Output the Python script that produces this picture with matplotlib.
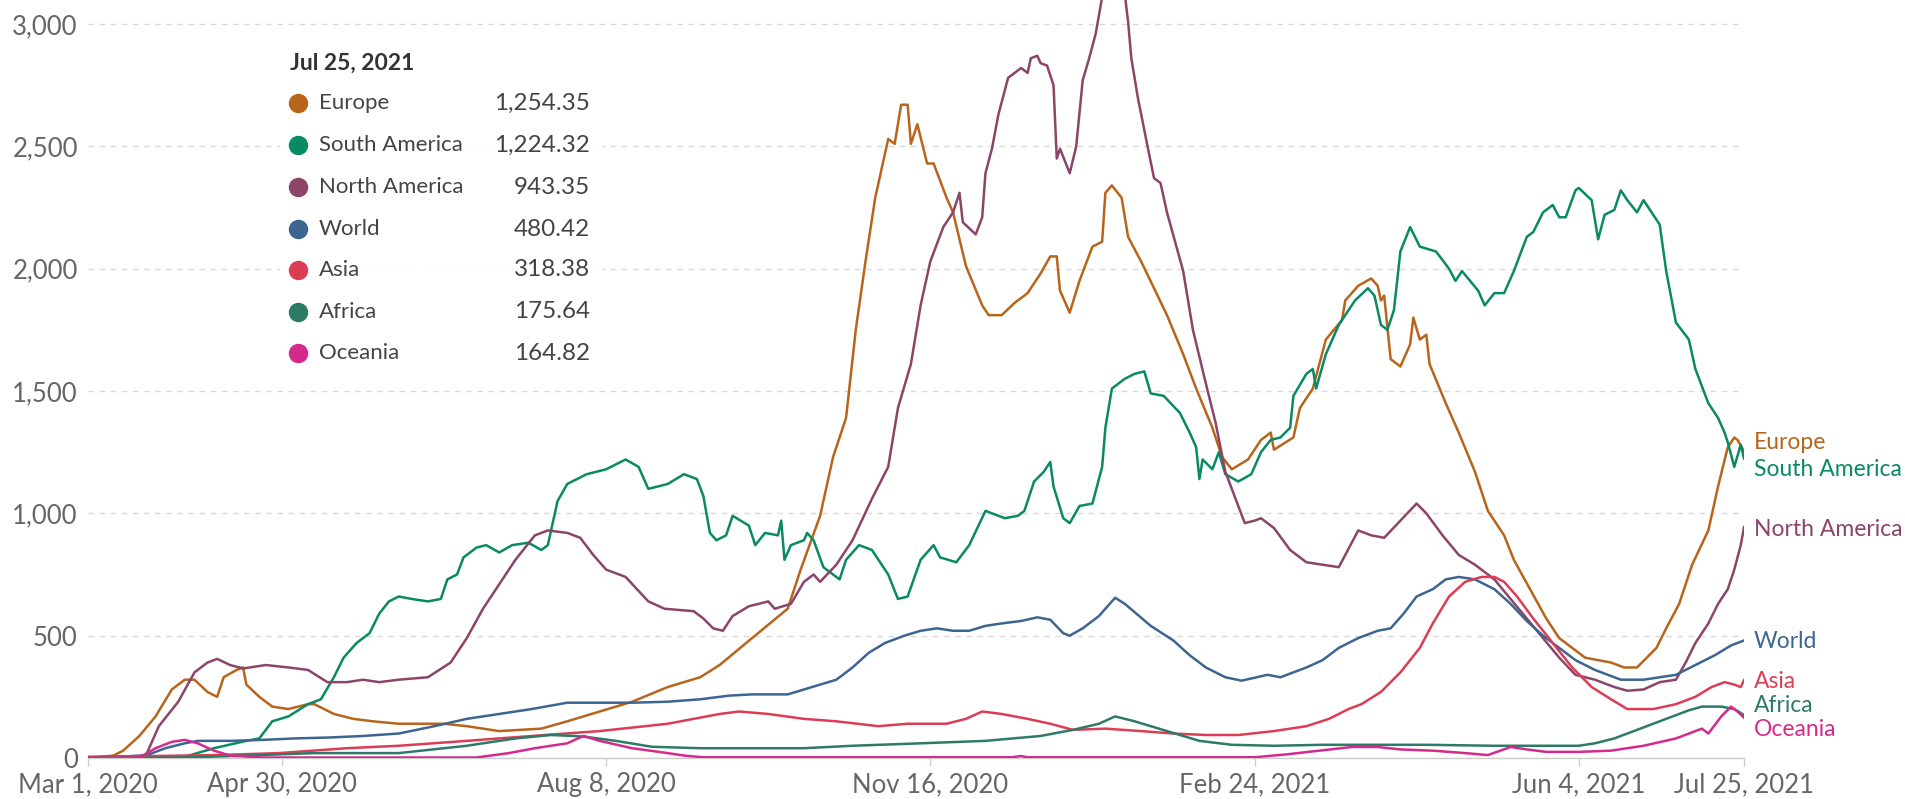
import numpy as np
import matplotlib
matplotlib.use("Agg")
import matplotlib.pyplot as plt
from matplotlib.patches import Rectangle

plt.rcParams['font.family'] = ['Lato', 'DejaVu Sans']

# days since Mar 1, 2020 and values
europe_days = [0, 8, 11, 16, 21, 26, 30, 33, 37, 40, 42, 46, 48, 49, 53, 57, 62, 68, 70, 76,
               82, 88, 96, 110, 117, 127, 140, 148, 158, 168, 179, 189, 195, 205, 216, 220, 226, 230, 234, 237,
               240, 243, 247, 249, 251, 253, 254, 256, 259, 261, 265, 267, 271, 276, 278, 282, 286, 290, 294, 297,
               299, 300, 303, 306, 310, 313, 314, 316, 319, 321, 325, 333, 338, 342, 347, 350, 353, 358, 362, 365,
               366, 372, 374, 378, 382, 387, 388, 392, 396, 398, 399, 400, 402, 405, 408, 409, 411, 413, 414, 419,
               423, 428, 432, 437, 440, 445, 450, 454, 462, 470, 474, 478, 484, 487, 491, 495, 500, 503, 506, 508,
               509, 511]
europe = [0, 10, 30, 90, 170, 280, 320, 320, 270, 250, 330, 360, 370, 300, 250, 210, 200, 220, 220, 180,
          160, 150, 140, 140, 130, 110, 120, 150, 190, 230, 290, 330, 380, 490, 610, 770, 990, 1230, 1390, 1750,
          2030, 2290, 2530, 2510, 2670, 2670, 2510, 2590, 2430, 2430, 2290, 2230, 2010, 1850, 1810, 1810, 1860, 1900, 1980, 2050,
          2050, 1910, 1820, 1950, 2090, 2110, 2310, 2340, 2290, 2130, 2030, 1810, 1650, 1510, 1350, 1230, 1180, 1220, 1300, 1330,
          1260, 1310, 1430, 1510, 1710, 1790, 1870, 1930, 1960, 1930, 1870, 1890, 1630, 1600, 1690, 1800, 1710, 1730, 1610, 1450,
          1330, 1170, 1010, 910, 810, 690, 570, 490, 410, 390, 370, 370, 450, 530, 630, 790, 930, 1110, 1270, 1310,
          1300, 1254.35]

samerica_days = [0, 20, 30, 39, 49, 53, 57, 62, 68, 72, 76, 79, 83, 87, 90, 93, 96, 100, 105, 109,
                 111, 114, 116, 120, 123, 127, 131, 136, 140, 142, 145, 148, 154, 160, 166, 170, 173, 179, 184, 188,
                 190, 192, 194, 197, 199, 204, 206, 209, 213, 214, 215, 217, 221, 222, 224, 227, 232, 234, 238, 242,
                 247, 250, 253, 257, 261, 263, 268, 272, 277, 283, 287, 289, 292, 295, 297, 298, 301, 303, 306, 310,
                 313, 314, 316, 320, 323, 326, 328, 332, 337, 340, 342, 343, 344, 347, 349, 351, 355, 359, 362, 365,
                 368, 371, 372, 376, 378, 379, 382, 386, 391, 395, 397, 399, 401, 403, 405, 408, 411, 416, 420, 422,
                 424, 429, 431, 434, 437, 440, 444, 446, 449, 452, 454, 456, 459, 460, 464, 466, 468, 471, 473, 475,
                 478, 480, 485, 487, 490, 494, 496, 500, 503, 505, 506, 508, 510, 511]
samerica = [0, 2, 5, 40, 70, 80, 150, 170, 220, 240, 330, 410, 470, 510, 590, 640, 660, 650, 640, 650,
            730, 750, 820, 860, 870, 840, 870, 880, 850, 870, 1050, 1120, 1160, 1180, 1220, 1190, 1100, 1120, 1160, 1140,
            1070, 920, 890, 910, 990, 950, 870, 920, 910, 970, 810, 870, 890, 920, 890, 780, 730, 810, 870, 850,
            750, 650, 660, 810, 870, 820, 800, 870, 1010, 980, 990, 1010, 1130, 1170, 1210, 1110, 980, 960, 1030, 1040,
            1190, 1350, 1510, 1550, 1570, 1580, 1490, 1480, 1410, 1330, 1270, 1140, 1220, 1180, 1250, 1160, 1130, 1160, 1250, 1300,
            1310, 1350, 1480, 1570, 1590, 1510, 1650, 1770, 1870, 1920, 1890, 1770, 1750, 1830, 2070, 2170, 2090, 2070, 2000, 1950,
            1990, 1910, 1850, 1900, 1900, 1990, 2130, 2150, 2230, 2260, 2210, 2210, 2320, 2330, 2280, 2120, 2220, 2240, 2320, 2280,
            2230, 2280, 2180, 1990, 1780, 1710, 1590, 1450, 1390, 1330, 1290, 1190, 1280, 1224.32]

namerica_days = [0, 18, 22, 28, 33, 37, 40, 44, 48, 55, 62, 68, 74, 80, 85, 90, 96, 105, 112, 117,
                 122, 127, 132, 138, 142, 148, 152, 156, 160, 166, 173, 178, 187, 190, 193, 196, 199, 204, 210, 212,
                 217, 221, 224, 226, 231, 236, 242, 247, 250, 254, 257, 260, 264, 267, 269, 270, 274, 276, 277, 279,
                 281, 284, 288, 290, 291, 293, 294, 296, 298, 299, 300, 303, 305, 307, 309, 311, 313, 316, 318, 320,
                 321, 322, 324, 327, 329, 331, 333, 338, 341, 345, 348, 351, 355, 357, 360, 362, 366, 371, 376, 381,
                 386, 388, 392, 396, 400, 405, 410, 413, 418, 423, 428, 434, 439, 444, 449, 454, 459, 465, 471, 475,
                 480, 485, 490, 493, 496, 500, 503, 506, 508, 510, 511]
namerica = [0, 10, 130, 230, 350, 390, 405, 380, 366, 380, 370, 360, 310, 310, 320, 310, 320, 330, 390, 490,
            610, 710, 810, 910, 930, 920, 900, 830, 770, 740, 640, 610, 600, 570, 530, 520, 580, 620, 640, 610,
            630, 720, 750, 720, 790, 890, 1060, 1190, 1430, 1610, 1850, 2030, 2170, 2230, 2310, 2190, 2140, 2210, 2390, 2490,
            2630, 2780, 2820, 2800, 2860, 2870, 2840, 2830, 2750, 2450, 2490, 2390, 2500, 2770, 2860, 2960, 3110, 3250, 3260, 3120,
            3010, 2860, 2700, 2500, 2370, 2350, 2230, 1990, 1750, 1530, 1370, 1170, 1030, 960, 970, 980, 940, 850, 800, 790,
            780, 830, 930, 910, 900, 970, 1040, 1000, 910, 830, 790, 730, 650, 570, 490, 410, 340, 320, 290, 275,
            280, 310, 320, 390, 470, 550, 630, 690, 770, 870, 943.35]

world_days = [0, 18, 24, 30, 34, 44, 54, 64, 75, 85, 96, 107, 117, 127, 137, 148, 158, 168, 179, 189,
              198, 205, 216, 226, 231, 236, 241, 246, 252, 257, 262, 267, 272, 277, 282, 288, 293, 297, 301, 303,
              307, 312, 317, 320, 328, 335, 340, 345, 351, 356, 364, 368, 376, 381, 386, 392, 398, 402, 406, 410,
              415, 419, 423, 428, 434, 439, 444, 449, 454, 459, 465, 473, 480, 485, 490, 496, 502, 507, 511]
world = [0, 10, 40, 60, 70, 70, 74, 80, 84, 90, 100, 130, 160, 180, 200, 226, 226, 226, 230, 240,
         255, 260, 260, 300, 320, 370, 430, 470, 500, 520, 530, 520, 520, 540, 550, 560, 575, 565, 510, 500,
         530, 580, 655, 630, 540, 480, 420, 370, 330, 316, 340, 330, 370, 400, 450, 490, 520, 530, 590, 660,
         690, 730, 740, 730, 690, 630, 560, 500, 450, 400, 360, 320, 320, 330, 340, 380, 420, 460, 480.42]

asia_days = [0, 20, 40, 59, 80, 96, 117, 137, 158, 179, 195, 201, 210, 221, 231, 244, 253, 265, 271, 276,
             282, 290, 297, 304, 314, 325, 335, 345, 355, 366, 376, 383, 389, 393, 399, 405, 411, 415, 420, 425,
             430, 434, 437, 441, 446, 452, 458, 464, 470, 475, 483, 490, 496, 501, 505, 508, 510, 511]
asia = [5, 8, 12, 20, 40, 50, 70, 90, 110, 140, 180, 190, 180, 160, 150, 130, 140, 140, 160, 190,
        180, 160, 140, 115, 120, 110, 100, 94, 94, 110, 130, 160, 200, 220, 270, 350, 450, 550, 660, 720,
        740, 740, 720, 660, 570, 470, 370, 290, 240, 200, 200, 220, 250, 290, 310, 300, 290, 318.38]

africa_days = [0, 30, 49, 70, 96, 117, 132, 143, 150, 154, 163, 174, 189, 221, 236, 257, 277, 294, 304, 312,
               317, 323, 333, 343, 353, 366, 381, 413, 434, 454, 460, 465, 471, 475, 481, 485, 491, 494, 498, 504,
               508, 511]
africa = [0, 2, 10, 20, 20, 50, 80, 94, 90, 86, 70, 46, 40, 40, 50, 60, 70, 90, 115, 140,
          170, 150, 110, 70, 54, 50, 54, 54, 50, 50, 50, 60, 80, 100, 130, 150, 180, 195, 210, 210,
          200, 175.64]

oceania_days = [0, 16, 21, 26, 30, 34, 39, 44, 54, 120, 130, 138, 148, 153, 158, 168, 179, 184, 190, 285,
                288, 290, 360, 370, 380, 390, 398, 405, 415, 425, 432, 439, 444, 450, 460, 470, 480, 490, 494, 498,
                500, 504, 507, 509, 511]
oceania = [0, 2, 40, 66, 74, 60, 30, 10, 2, 2, 20, 40, 60, 90, 70, 40, 20, 10, 3, 3,
           8, 3, 3, 15, 30, 45, 45, 35, 30, 20, 12, 45, 35, 25, 25, 30, 50, 80, 100, 120,
           100, 170, 210, 190, 164.82]

names = ["Europe", "South America", "North America", "World", "Asia", "Africa", "Oceania"]
last_values = ["1,254.35", "1,224.32", "943.35", "480.42", "318.38", "175.64", "164.82"]
colors = ["#B8651B", "#0A8A62", "#8C4569", "#3D6591", "#DB3E54", "#2E7A68", "#D42A8E"]
series = [(europe_days, europe), (samerica_days, samerica), (namerica_days, namerica),
          (world_days, world), (asia_days, asia), (africa_days, africa), (oceania_days, oceania)]

tick_days = [0, 60, 160, 260, 360, 460, 511]
tick_labels = ["Mar 1, 2020", "Apr 30, 2020", "Aug 8, 2020", "Nov 16, 2020",
               "Feb 24, 2021", "Jun 4, 2021", "Jul 25, 2021"]
start = np.datetime64("2020-03-01")

W, H = 1906, 799
fig = plt.figure(figsize=(W / 100, H / 100), dpi=100)
ax = fig.add_axes([87.5 / W, 1 - 758 / H, (1744 - 87.5) / W, 758 / H])


def fx(px):
    return px / W


def fy(py):
    return 1 - py / H


for (d, v), c in zip(series, colors):
    ax.plot(start + np.array(d), v, color=c, lw=1.8, solid_joinstyle='round', zorder=3)

ax.set_xlim(start, start + 511)
ax.set_ylim(0, 3098)
ax.set_yticks([0, 500, 1000, 1500, 2000, 2500, 3000])
ax.set_yticklabels(["0", "500", "1,000", "1,500", "2,000", "2,500", "3,000"])
ax.set_xticks(start + np.array(tick_days))
ax.set_xticklabels(tick_labels)

for s in ["top", "right", "left"]:
    ax.spines[s].set_visible(False)
ax.spines["bottom"].set_color("#cccccc")
ax.spines["bottom"].set_linewidth(1)
ax.grid(axis="y", color="#d9d9d9", linestyle=(0, (4, 4)), linewidth=1)
ax.set_axisbelow(True)
ax.tick_params(axis="y", length=0, pad=7, labelsize=18.5, labelcolor="#666666")
ax.tick_params(axis="x", length=6, width=1, color="#cccccc", pad=4, labelsize=18.5, labelcolor="#666666")

# end-of-line labels
label_y = [443, 469, 529, 641, 682, 706, 730]
for n, c, y in zip(names, colors, label_y):
    fig.text(fx(1754), fy(y), n, color=c, fontsize=16.5, va="center", ha="left")

# hover box
ax.add_patch(Rectangle((fx(280), fy(373)), fx(603) - fx(280), fy(35) - fy(373),
                       transform=fig.transFigure, facecolor="white", alpha=0.93,
                       edgecolor="none", zorder=5, clip_on=False))
ax.text(fx(290), fy(63), "Jul 25, 2021", transform=fig.transFigure, fontsize=16.5,
        fontweight="bold", color="#333333", va="center", ha="left", zorder=6)
row_y = [103, 145, 187, 229, 270, 312, 353]
for n, val, c, y in zip(names, last_values, colors, row_y):
    ax.plot([fx(298)], [fy(y)], marker="o", markersize=13, color=c, transform=fig.transFigure,
            clip_on=False, zorder=6)
    ax.text(fx(319), fy(y), n, transform=fig.transFigure, fontsize=16, color="#444444",
            va="center", ha="left", zorder=6)
    ax.text(fx(590), fy(y), val, transform=fig.transFigure, fontsize=17.5, color="#444444",
            va="center", ha="right", zorder=6)

fig.savefig("out.png", dpi=100)
